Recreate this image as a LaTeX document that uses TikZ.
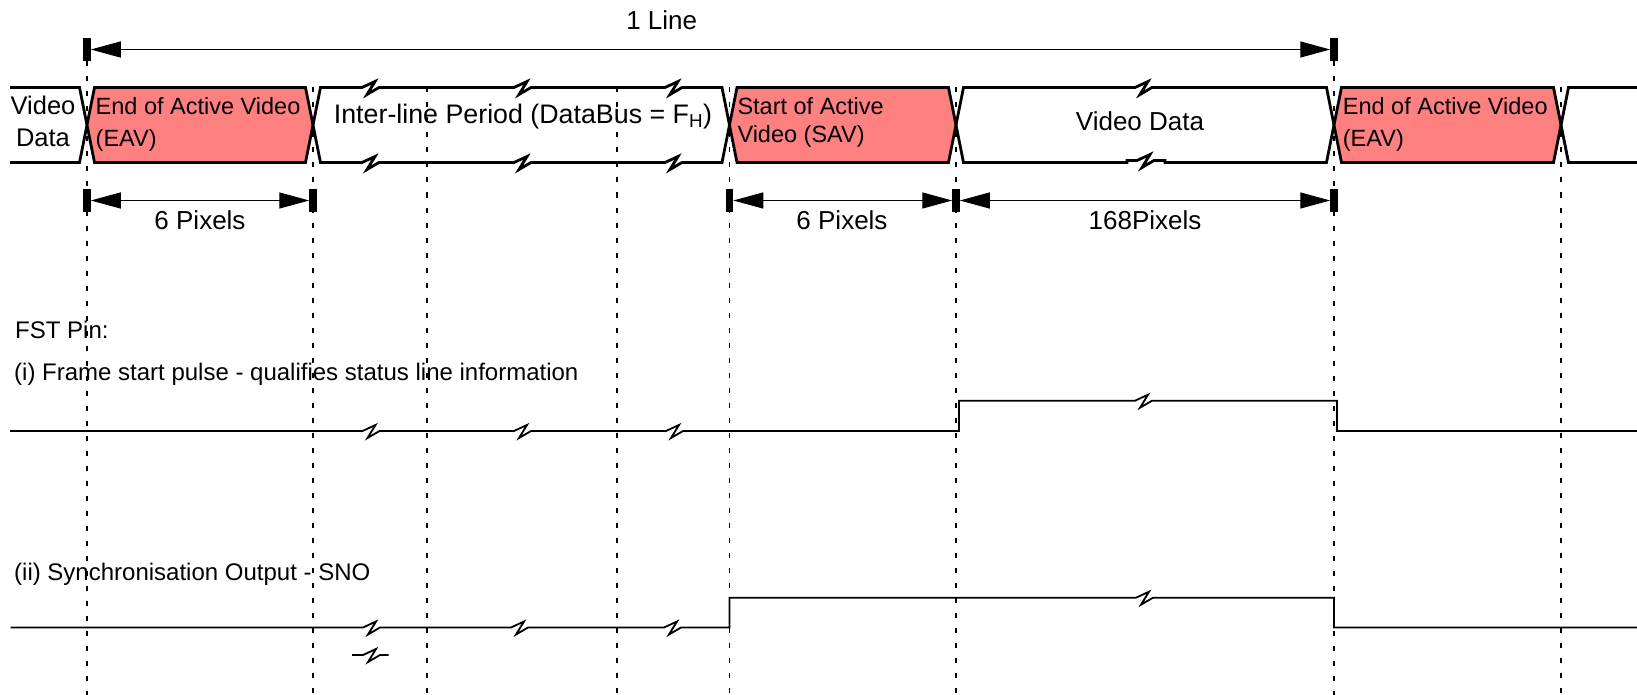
\documentclass[tikz,border=0pt]{standalone}
\usepackage{fontspec}
\setmainfont{Liberation Sans}
\usetikzlibrary{arrows.meta}
\definecolor{salmon}{RGB}{255,128,128}
\newcommand\zz[2]{-- ({#1-8},{#2}) -- ({#1+5},{#2-6}) -- ({#1-3},{#2+7}) -- ({#1+9},{#2})}
\begin{document}
\begin{tikzpicture}[x=1pt,y=-1pt,
  bus/.style={line width=2.8pt, line join=miter},
  sig/.style={line width=1.8pt},
  guide/.style={line width=1.4pt, dash pattern=on 5pt off 10pt},
  bar/.style={fill=black, draw=none, minimum width=7.5pt, minimum height=22.5pt, inner sep=0pt, outer sep=0pt},
  dim/.style={line width=1.3pt, {Triangle[length=30pt,width=16pt]}-{Triangle[length=30pt,width=16pt]}},
  lbl/.style={font=\fontsize{26}{30}\selectfont, inner sep=0pt, anchor=base},
  boxtxt/.style={font=\fontsize{23.5}{28}\selectfont, inner sep=0pt, anchor=base west},
  sigtxt/.style={font=\fontsize{24}{28}\selectfont, inner sep=0pt, anchor=base west}]
\useasboundingbox (0,0) rectangle (1637,695);
% guides
\draw[guide] (87,61) -- (87,695);
\draw[guide] (313,87.5) -- (313,695);
\draw[guide] (427,87.5) -- (427,695);
\draw[guide] (617,87.5) -- (617,695);
\draw[guide] (729.5,87.5) -- (729.5,695);
\draw[guide] (956,87.5) -- (956,695);
\draw[guide] (1334,61) -- (1334,695);
\draw[guide] (1561,87.5) -- (1561,695);
% bus
\draw[bus] (10,87.5) -- (79.5,87.5) -- (87,125) -- (79.5,162.5) -- (10,162.5);
\draw[bus, fill=salmon] (94.5,87.5) -- (305.5,87.5) -- (313,125) -- (305.5,162.5) -- (94.5,162.5) -- (87,125) -- cycle;
\draw[bus] (313,125) -- (320.5,87.5) \zz{370}{87.5} \zz{522}{87.5} \zz{673}{87.5} -- (722,87.5) -- (729.5,125);
\draw[bus] (313,125) -- (320.5,162.5) \zz{370}{162.5} \zz{522}{162.5} \zz{673}{162.5} -- (722,162.5) -- (729.5,125);
\draw[bus, fill=salmon] (737,87.5) -- (948.5,87.5) -- (956,125) -- (948.5,162.5) -- (737,162.5) -- (729.5,125) -- cycle;
\draw[bus] (956,125) -- (963.5,87.5) \zz{1143}{87.5} -- (1326.5,87.5) -- (1334,125);
\draw[bus] (956,125) -- (963.5,162.5) -- (1127,162.5) -- (1127,160.5) \zz{1145}{160.5} -- (1165,160.5) -- (1165,162.5) -- (1326.5,162.5) -- (1334,125);
\draw[bus, fill=salmon] (1341.5,87.5) -- (1553.5,87.5) -- (1561,125) -- (1553.5,162.5) -- (1341.5,162.5) -- (1334,125) -- cycle;
\draw[bus] (1640,87.5) -- (1568.5,87.5) -- (1561,125) -- (1568.5,162.5) -- (1640,162.5);
% bus texts
\node[boxtxt, anchor=base, font=\fontsize{25.5}{30}\selectfont] (vd1) at (43,115) {Video};
\node[boxtxt, anchor=base, font=\fontsize{25.5}{30}\selectfont] (vd2) at (43,147) {Data};
\node[boxtxt] (eav1) at (95.5,115) {End of Active Video};
\node[boxtxt] (eav2) at (95.5,146.5) {(EAV)};
\node[lbl, font=\fontsize{26.8}{30}\selectfont] (ilp) at (523,123.3) {Inter-line Period (DataBus = F\textsubscript{H})};
\node[boxtxt] (sav1) at (737.3,114.3) {Start of Active};
\node[boxtxt] (sav2) at (737.3,142.5) {Video (SAV)};
\node[lbl] (vdat) at (1140,130.7) {Video Data};
\node[boxtxt] (eav3) at (1342.7,115) {End of Active Video};
\node[boxtxt] (eav4) at (1342.7,146.5) {(EAV)};
% dimension bars and arrows
\node[bar] (b1) at (87,49.5) {};
\node[bar] (b2) at (1334,49.5) {};
\node[bar] (c1) at (87,200.5) {};
\node[bar] (c2) at (313,200.5) {};
\node[bar] (c3) at (729.5,200.5) {};
\node[bar] (c4) at (956,200.5) {};
\node[bar] (c5) at (1334,200.5) {};
\draw[dim] (b1.east) -- (b2.west);
\draw[dim] (c1.east) -- (c2.west);
\draw[dim] (c3.east) -- (c4.west);
\draw[dim] (c4.east) -- (c5.west);
\node[lbl] (l1) at (661.7,29.3) {1 Line};
\node[lbl] (l2) at (200,229.5) {6 Pixels};
\node[lbl] (l3) at (842,229) {6 Pixels};
\node[lbl] (l4) at (1145,229) {168Pixels};
% signals
\node[sigtxt] (fst) at (15,338.3) {FST Pin:};
\node[sigtxt] (fsti) at (14,380) {(i) Frame start pulse - qualifies status line information};
\node[sigtxt] (sno) at (14,580) {(ii) Synchronisation Output - SNO};
\draw[sig] (10,431) \zz{370.5}{431} \zz{522}{431} \zz{674}{431} -- (959,431) -- (959,400.7) \zz{1143}{400.7} -- (1337,400.7) -- (1337,431) -- (1640,431);
\draw[sig] (10.5,627.5) \zz{371}{627.5} \zz{519}{627.5} \zz{672}{627.5} -- (729.5,627.5) -- (729.5,597.7) \zz{1144}{597.7} -- (1334,597.7) -- (1334,627.5) -- (1640,627.5);
\draw[sig] (352,655) \zz{371}{655} -- (388.5,655);
\end{tikzpicture}
\end{document}
